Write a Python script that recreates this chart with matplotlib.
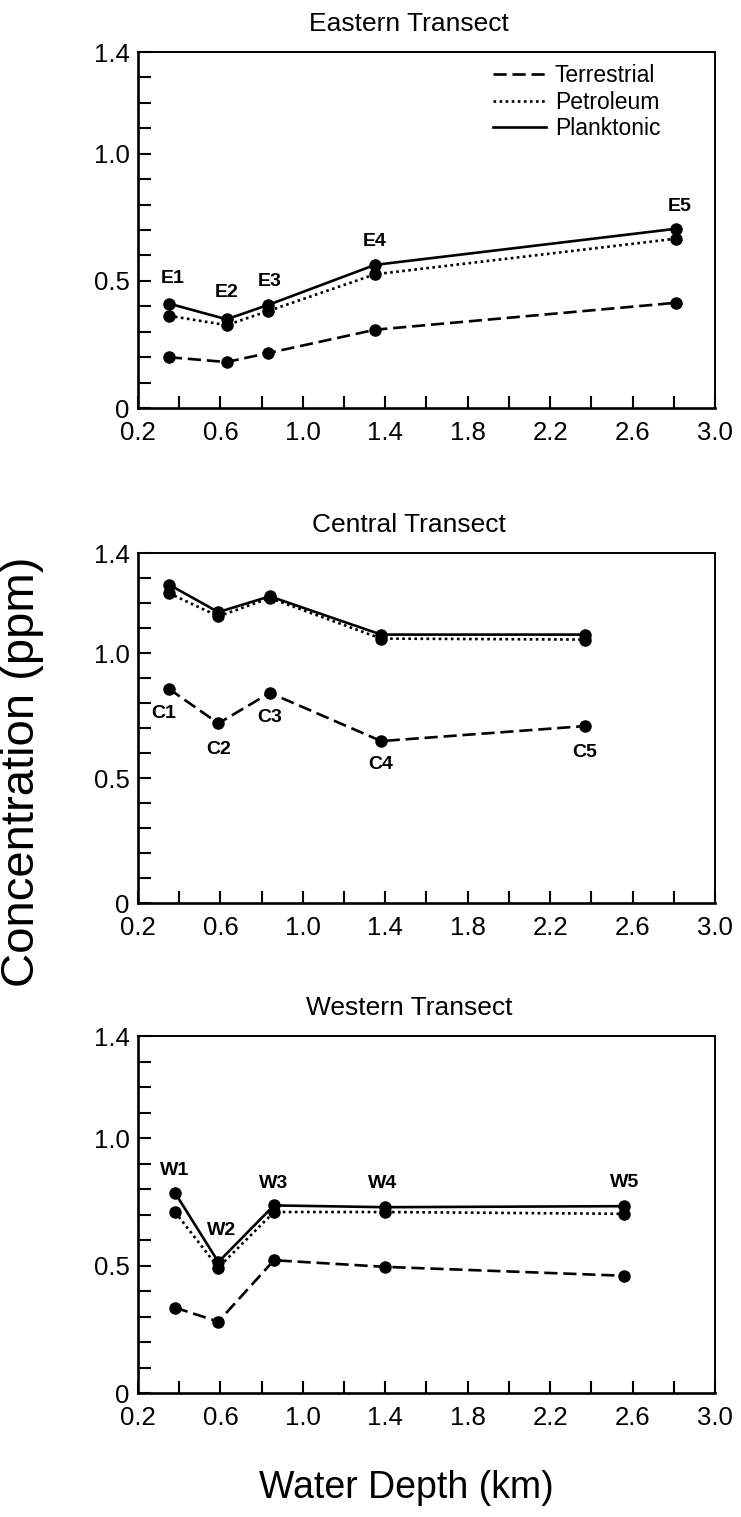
import numpy as np
import matplotlib
matplotlib.use("Agg")
import matplotlib.pyplot as plt
from matplotlib.lines import Line2D

plt.rcParams["font.family"] = ["Liberation Sans", "DejaVu Sans"]

# Eastern transect
e_depth = [0.35, 0.63, 0.83, 1.35, 2.81]
e_terr = [0.200, 0.181, 0.216, 0.308, 0.414]
e_petr = [0.363, 0.326, 0.381, 0.526, 0.666]
e_plank = [0.411, 0.349, 0.405, 0.563, 0.705]
e_names = ["E1", "E2", "E3", "E4", "E5"]

# Central transect
c_depth = [0.35, 0.59, 0.84, 1.38, 2.37]
c_terr = [0.857, 0.719, 0.841, 0.648, 0.708]
c_petr = [1.240, 1.147, 1.220, 1.058, 1.054]
c_plank = [1.274, 1.164, 1.227, 1.074, 1.074]
c_names = ["C1", "C2", "C3", "C4", "C5"]

# Western transect
w_depth = [0.38, 0.59, 0.86, 1.40, 2.56]
w_terr = [0.335, 0.280, 0.521, 0.495, 0.460]
w_petr = [0.710, 0.492, 0.710, 0.710, 0.703]
w_plank = [0.785, 0.514, 0.736, 0.729, 0.733]
w_names = ["W1", "W2", "W3", "W4", "W5"]

series_names = ["Terrestrial", "Petroleum", "Planktonic"]
titles = ["Eastern Transect", "Central Transect", "Western Transect"]

# styles / layout (not data)
line_styles = [(0, (5, 2.2)), (0, (1, 1.3)), "-"]
e_offsets = [(3, 18), (0, 19), (1, 17), (0, 17), (3, 16)]
c_offsets = [(-4, -18), (0, -19), (0, -18), (0, -17), (0, -19)]
w_offsets = [(0, 16), (2, 23), (0, 16), (-2, 17), (0, 17)]

panels = [
    (e_depth, [e_terr, e_petr, e_plank], e_names, e_offsets, 2),
    (c_depth, [c_terr, c_petr, c_plank], c_names, c_offsets, 0),
    (w_depth, [w_terr, w_petr, w_plank], w_names, w_offsets, 2),
]

fig = plt.figure(figsize=(7.41, 15.17), dpi=100)

# axes boxes in figure fraction (left, bottom, width, height)
boxes = [
    (0.1862, 0.7310, 0.7787, 0.2347),
    (0.1862, 0.4047, 0.7787, 0.2307),
    (0.1862, 0.0817, 0.7787, 0.2353),
]

xticks = np.round(np.arange(0.2, 3.01, 0.2), 1)
xlabels = ["%.1f" % v if i % 2 == 0 else "" for i, v in enumerate(xticks)]
yticks = np.round(np.arange(0, 1.41, 0.1), 1)
ylabel_map = {0.0: "0", 0.5: "0.5", 1.0: "1.0", 1.4: "1.4"}
ylabels = [ylabel_map.get(v, "") for v in yticks]

for k, (depth, vals, names, offs, anchor) in enumerate(panels):
    ax = fig.add_axes(boxes[k])
    for s in range(3):
        ax.plot(depth, vals[s], color="black", linestyle=line_styles[s],
                linewidth=1.9, marker="o", markersize=8,
                label=series_names[s], zorder=2 + s)
    for i, name in enumerate(names):
        ax.annotate(name, (depth[i], vals[anchor][i]), xytext=offs[i],
                    textcoords="offset points", ha="center", va="center",
                    fontsize=14, fontweight="bold")
    ax.set_xlim(0.2, 3.0)
    ax.set_ylim(0, 1.4)
    ax.set_xticks(xticks)
    ax.set_xticklabels(xlabels)
    ax.set_yticks(yticks)
    ax.set_yticklabels(ylabels)
    ax.tick_params(direction="in", length=9, width=1.5, labelsize=18.5,
                   top=False, right=False)
    ax.tick_params(axis="x", pad=9)
    ax.tick_params(axis="y", pad=6)
    for side in ["left", "bottom"]:
        ax.spines[side].set_linewidth(1.9)
    for side in ["top", "right"]:
        ax.spines[side].set_linewidth(1.4)
    ax.set_title(titles[k], fontsize=19, pad=15, x=0.47)
    if k == 0:
        hs = [Line2D([], [], color="black", linestyle=line_styles[s],
                     linewidth=1.9) for s in range(3)]
        ax.legend(hs, series_names, loc="upper right", frameon=False,
                  fontsize=16.5, handlelength=2.3, handletextpad=0.4,
                  labelspacing=0.15, borderpad=0, borderaxespad=0,
                  bbox_to_anchor=(0.905, 0.965))

fig.text(0.03, 0.491, "Concentration (ppm)", rotation=90, ha="center",
         va="center", fontsize=34)
fig.text(0.548, 0.019, "Water Depth (km)", ha="center", va="center",
         fontsize=27)

fig.savefig("out.png", dpi=100)
